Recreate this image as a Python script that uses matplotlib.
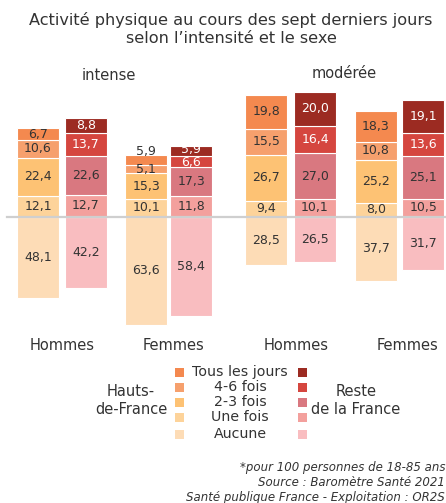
import numpy as np
import matplotlib
matplotlib.use("Agg")
import matplotlib.pyplot as plt

plt.rcParams['font.family'] = ['DejaVu Sans']

# categories
levels = ["Tous les jours", "4-6 fois", "2-3 fois", "Une fois", "Aucune"]
groups = ["intense", "modérée"]
sexes = ["Hommes", "Femmes"]

# values per bar: tous, 4-6, 2-3, une fois, aucune
hdf_int_h = [6.7, 10.6, 22.4, 12.1, 48.1]
rdf_int_h = [8.8, 13.7, 22.6, 12.7, 42.2]
hdf_int_f = [5.9, 5.1, 15.3, 10.1, 63.6]
rdf_int_f = [5.9, 6.6, 17.3, 11.8, 58.4]
hdf_mod_h = [19.8, 15.5, 26.7, 9.4, 28.5]
rdf_mod_h = [20.0, 16.4, 27.0, 10.1, 26.5]
hdf_mod_f = [18.3, 10.8, 25.2, 8.0, 37.7]
rdf_mod_f = [19.1, 13.6, 25.1, 10.5, 31.7]

hdf_colors = ["#F4894F", "#F6A06D", "#FDC274", "#FDD39A", "#FDDCB6"]
rdf_colors = ["#9C2B22", "#D5463F", "#D97880", "#F3A09D", "#F9BDC0"]
rdf_txt = ["white", "white", "#333333", "#333333", "#333333"]

W, H = 446, 503
base = 216.5
scale = 1.70
txt = "#333333"

fig = plt.figure(figsize=(W / 100, H / 100), dpi=100)
ax = fig.add_axes([0, 0, 1, 1])
ax.set_xlim(0, W)
ax.set_ylim(-(H - base) / scale, base / scale)
ax.axis("off")

def fx(x):
    return x / W

def fy(y):
    return 1 - y / H

bars = [
    (38.0, hdf_int_h, hdf_colors, None),
    (85.7, rdf_int_h, rdf_colors, rdf_txt),
    (146.3, hdf_int_f, hdf_colors, None),
    (191.3, rdf_int_f, rdf_colors, rdf_txt),
    (266.2, hdf_mod_h, hdf_colors, None),
    (315.0, rdf_mod_h, rdf_colors, rdf_txt),
    (376.0, hdf_mod_f, hdf_colors, None),
    (423.3, rdf_mod_f, rdf_colors, rdf_txt),
]
bw = 42
# small nudges for crowded labels (bar index, level index) -> data units
nudge = {(2, 0): 4.5, (3, 0): 0.6, (3, 1): -0.8, (2, 1): -0.5}

for i, (xc, vals, cols, tcols) in enumerate(bars):
    # Aucune below baseline
    ax.bar(xc, -vals[4], width=bw, bottom=0, color=cols[4],
           edgecolor="#ffffff", linewidth=0.8, zorder=2)
    ax.text(xc, -vals[4] / 2, f"{vals[4]:.1f}".replace(".", ","),
            ha="center", va="center", fontsize=9, color=txt, zorder=4)
    bottom = 0
    for k in [3, 2, 1, 0]:
        ax.bar(xc, vals[k], width=bw, bottom=bottom, color=cols[k],
               edgecolor="#ffffff", linewidth=0.8, zorder=2)
        yc = bottom + vals[k] / 2 + nudge.get((i, k), 0)
        tc = txt if tcols is None else tcols[k]
        ax.text(xc, yc, f"{vals[k]:.1f}".replace(".", ","),
                ha="center", va="center", fontsize=9, color=tc, zorder=4)
        bottom += vals[k]

ax.axhline(0, xmin=7 / W, xmax=1, color="#cfcfcf", linewidth=1.6, zorder=3)

# title
fig.text(fx(231), fy(20), "Activité physique au cours des sept derniers jours",
         ha="center", va="center", fontsize=11.6, color=txt)
fig.text(fx(231), fy(38.5), "selon l’intensité et le sexe",
         ha="center", va="center", fontsize=11.6, color=txt)

# group labels
fig.text(fx(109), fy(75), groups[0], ha="center", va="center", fontsize=10.5, color=txt)
fig.text(fx(344), fy(73), groups[1], ha="center", va="center", fontsize=10.5, color=txt)

# sex labels
for xs, s in zip([62, 173, 296, 407], sexes * 2):
    fig.text(fx(xs), fy(346), s, ha="center", va="center", fontsize=10.5, color=txt)

# legend
rows = [372, 387, 402, 417, 434]
for r, lab, ch, cr in zip(rows, levels, hdf_colors, rdf_colors):
    ax.bar(179, 9 / scale, width=9, bottom=(base - r - 4.5) / scale, color=ch,
           edgecolor="none", zorder=2)
    ax.bar(302.5, 9 / scale, width=9, bottom=(base - r - 4.5) / scale, color=cr,
           edgecolor="none", zorder=2)
    fig.text(fx(240), fy(r), lab, ha="center", va="center", fontsize=10.2, color=txt)

fig.text(fx(131), fy(392), "Hauts-", ha="center", va="center", fontsize=10.5, color=txt)
fig.text(fx(131), fy(410), "de-France", ha="center", va="center", fontsize=10.5, color=txt)
fig.text(fx(356), fy(392), "Reste", ha="center", va="center", fontsize=10.5, color=txt)
fig.text(fx(356), fy(410), "de la France", ha="center", va="center", fontsize=10.5, color=txt)

# footnote
notes = ["*pour 100 personnes de 18-85 ans",
         "Source : Baromètre Santé 2021",
         "Santé publique France - Exploitation : OR2S"]
for y, t in zip([467, 482, 497], notes):
    fig.text(fx(445), fy(y), t, ha="right", va="center", fontsize=8.5,
             style="italic", color=txt)

fig.savefig("out.png", dpi=100)
